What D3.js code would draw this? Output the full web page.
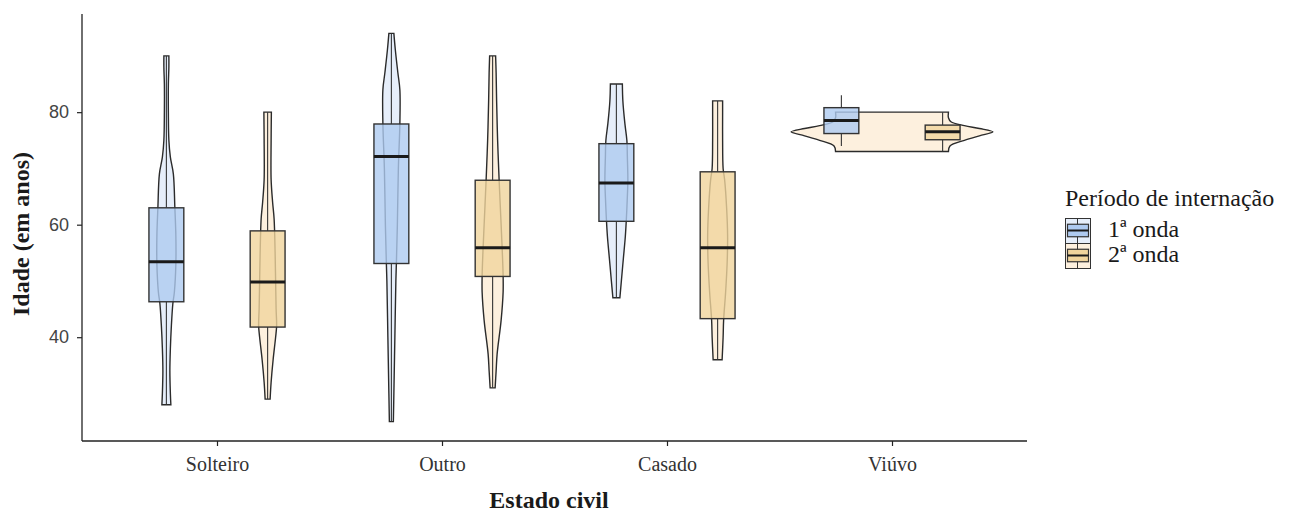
<!DOCTYPE html>
<html>
<head>
<meta charset="utf-8">
<script src="https://cdn.jsdelivr.net/npm/d3@7"></script>
<style>
  body { margin: 0; background: #fff; }
  svg { display: block; }
</style>
</head>
<body>
<svg id="chart"></svg>
<script>
var categories = ["Solteiro", "Outro", "Casado", "Viúvo"];
var waves = ["1ª onda", "2ª onda"];
var yTicks = [40, 60, 80];

// boxplot stats per category: [lower whisker, q1, median, q3, upper whisker]
var box1 = [[28, 46.3, 53.4, 63.0, 90], [25, 53.1, 72.1, 77.9, 94], [47, 60.6, 67.4, 74.4, 85], [74, 76.2, 78.5, 80.8, 83]];
var box2 = [[29, 41.8, 49.8, 58.9, 80], [31, 50.8, 55.9, 67.9, 90], [36, 43.3, 55.9, 69.4, 82], [73, 75.1, 76.5, 77.7, 80]];

// violin profiles per category: [age, relative density]
var violin1 = [
  [[28, 0.09], [30, 0.08], [34, 0.07], [38, 0.08], [42, 0.10], [46, 0.13], [48, 0.16], [53, 0.19], [58, 0.19], [63, 0.17], [69, 0.14], [72, 0.08], [75, 0.05], [80, 0.04], [85, 0.04], [88, 0.05], [90, 0.05]],
  [[25, 0.04], [30, 0.05], [40, 0.07], [50, 0.09], [53, 0.10], [60, 0.12], [70, 0.14], [78, 0.17], [84, 0.17], [87, 0.13], [91, 0.08], [94, 0.05]],
  [[47, 0.07], [50, 0.10], [54, 0.14], [58, 0.18], [61, 0.20], [65, 0.22], [68, 0.23], [72, 0.22], [75, 0.21], [78, 0.17], [82, 0.13], [85, 0.12]],
  null
];
var violin2 = [
  [[29, 0.05], [32, 0.07], [36, 0.11], [40, 0.16], [42, 0.18], [45, 0.17], [50, 0.16], [55, 0.15], [61, 0.13], [64, 0.10], [68, 0.07], [75, 0.07], [80, 0.075]],
  [[31, 0.05], [34, 0.07], [37, 0.09], [43, 0.17], [48, 0.21], [51, 0.21], [56, 0.19], [62, 0.16], [68, 0.13], [75, 0.10], [82, 0.08], [87, 0.07], [90, 0.06]],
  [[36, 0.09], [40, 0.11], [43, 0.12], [48, 0.16], [53, 0.19], [58, 0.20], [63, 0.18], [68, 0.14], [70, 0.11], [75, 0.10], [80, 0.10], [82, 0.10]],
  [[73, 1.13], [74, 1.16], [75, 1.45], [75.8, 1.75], [76.5, 2.02], [77.1, 1.75], [77.6, 1.45], [78.3, 1.18], [79, 1.13], [80, 1.13]]
];

var boxFill = ["#aecaf0", "#f0d49c"];
var violinFill = ["#e6eefa", "#fdf0de"];

var W = 1289, H = 516;
var plot = { left: 82, right: 1027, top: 14, bottom: 441 };
var serif = "Liberation Serif, Times New Roman, serif";

var svg = d3.select("#chart").attr("width", W).attr("height", H);

var x = d3.scalePoint()
    .domain(categories)
    .range([plot.left, plot.right])
    .padding(0.6);

var xWave = d3.scaleBand()
    .domain(waves)
    .range([-0.45 * x.step(), 0.45 * x.step()]);

var allVals = box1.concat(box2).reduce(function (a, b) { return a.concat(b); }, []);
var ext = d3.extent(allVals);
var pad = (ext[1] - ext[0]) * 0.05;
var y = d3.scaleLinear()
    .domain([ext[0] - pad, ext[1] + pad])
    .range([plot.bottom, plot.top]);

var wScale = d3.scaleLinear().domain([0, 1]).range([0, x.step() * 0.222]);
var boxW = x.step() * 0.155;

var series = [
  { key: 0, box: box1, violin: violin1 },
  { key: 1, box: box2, violin: violin2 }
];

function centerOf(s, i) {
  // a lone violin in its category takes the full slot, centred
  var other = series[1 - s.key];
  var cx = x(categories[i]);
  if (!other.violin[i]) return cx;
  return cx + xWave(waves[s.key]) + xWave.bandwidth() / 2;
}

// violins
series.forEach(function (s) {
  s.violin.forEach(function (prof, i) {
    if (!prof) return;
    var cx = centerOf(s, i);
    var area = d3.area()
        .y(function (d) { return y(d[0]); })
        .x0(function (d) { return cx - wScale(d[1]); })
        .x1(function (d) { return cx + wScale(d[1]); })
        .curve(d3.curveCatmullRom);
    svg.append("path")
        .attr("d", area(prof))
        .attr("fill", violinFill[s.key])
        .attr("stroke", "#2b2b2b")
        .attr("stroke-width", 1.4);
  });
});

// boxplots
series.forEach(function (s) {
  s.box.forEach(function (b, i) {
    var cx = x(categories[i]) + xWave(waves[s.key]) + xWave.bandwidth() / 2;
    var g = svg.append("g");
    g.append("line")
        .attr("x1", cx).attr("x2", cx)
        .attr("y1", y(b[4])).attr("y2", y(b[3]))
        .attr("stroke", "#333").attr("stroke-width", 1.1);
    g.append("line")
        .attr("x1", cx).attr("x2", cx)
        .attr("y1", y(b[1])).attr("y2", y(b[0]))
        .attr("stroke", "#333").attr("stroke-width", 1.1);
    g.append("rect")
        .attr("x", cx - boxW / 2)
        .attr("width", boxW)
        .attr("y", y(b[3]))
        .attr("height", y(b[1]) - y(b[3]))
        .attr("fill", boxFill[s.key])
        .attr("fill-opacity", 0.8)
        .attr("stroke", "#333")
        .attr("stroke-width", 1.4);
    g.append("line")
        .attr("x1", cx - boxW / 2).attr("x2", cx + boxW / 2)
        .attr("y1", y(b[2])).attr("y2", y(b[2]))
        .attr("stroke", "#1a1a1a").attr("stroke-width", 3);
  });
});

// axes
var yAxis = svg.append("g")
    .attr("transform", "translate(" + plot.left + ",0)")
    .call(d3.axisLeft(y).tickValues(yTicks).tickSize(5).tickPadding(8));
var xAxis = svg.append("g")
    .attr("transform", "translate(0," + plot.bottom + ")")
    .call(d3.axisBottom(x).tickSize(5).tickPadding(11));

[yAxis, xAxis].forEach(function (a) {
  a.select(".domain").attr("stroke", "#222").attr("stroke-width", 1.3);
  a.selectAll(".tick line").attr("stroke", "#222").attr("stroke-width", 1.2);
});
yAxis.select(".domain").attr("d", "M0," + plot.top + "V" + plot.bottom);
xAxis.select(".domain").attr("d", "M" + plot.left + ",0H" + plot.right);
yAxis.selectAll(".tick text")
    .attr("font-family", "Liberation Sans, Arial, sans-serif")
    .attr("font-size", 18).attr("fill", "#444");
xAxis.selectAll(".tick text")
    .attr("font-family", serif)
    .attr("font-size", 20).attr("fill", "#333");

svg.append("text")
    .attr("transform", "translate(29,234) rotate(-90)")
    .attr("text-anchor", "middle")
    .attr("font-family", serif)
    .attr("font-weight", "bold").attr("font-size", 24).attr("fill", "#1a1a1a")
    .text("Idade (em anos)");

svg.append("text")
    .attr("x", 549).attr("y", 508)
    .attr("text-anchor", "middle")
    .attr("font-family", serif)
    .attr("font-weight", "bold").attr("font-size", 24).attr("fill", "#1a1a1a")
    .text("Estado civil");

// legend
var leg = svg.append("g").attr("transform", "translate(1065,0)");
leg.append("text")
    .attr("x", 0).attr("y", 206)
    .attr("font-family", serif)
    .attr("font-size", 24).attr("fill", "#1a1a1a")
    .text("Período de internação");

waves.forEach(function (w, k) {
  var ky = 218 + k * 25, ks = 25;
  var g = leg.append("g").attr("transform", "translate(0," + ky + ")");
  g.append("rect").attr("x", 0.5).attr("y", 0.5).attr("width", ks).attr("height", ks)
      .attr("fill", violinFill[k]).attr("stroke", "#333").attr("stroke-width", 1);
  g.append("line").attr("x1", ks / 2).attr("x2", ks / 2).attr("y1", 0).attr("y2", ks)
      .attr("stroke", "#333").attr("stroke-width", 1);
  g.append("rect").attr("x", 2.5).attr("y", ks * 0.25).attr("width", ks - 4).attr("height", ks * 0.5)
      .attr("fill", boxFill[k]).attr("stroke", "#333").attr("stroke-width", 1.2);
  g.append("line").attr("x1", 2.5).attr("x2", ks - 1.5).attr("y1", ks / 2).attr("y2", ks / 2)
      .attr("stroke", "#1a1a1a").attr("stroke-width", 2);
  leg.append("text")
      .attr("x", 43).attr("y", ky + 19)
      .attr("font-family", serif)
      .attr("font-size", 24).attr("fill", "#1a1a1a")
      .text(w);
});
</script>
</body>
</html>
